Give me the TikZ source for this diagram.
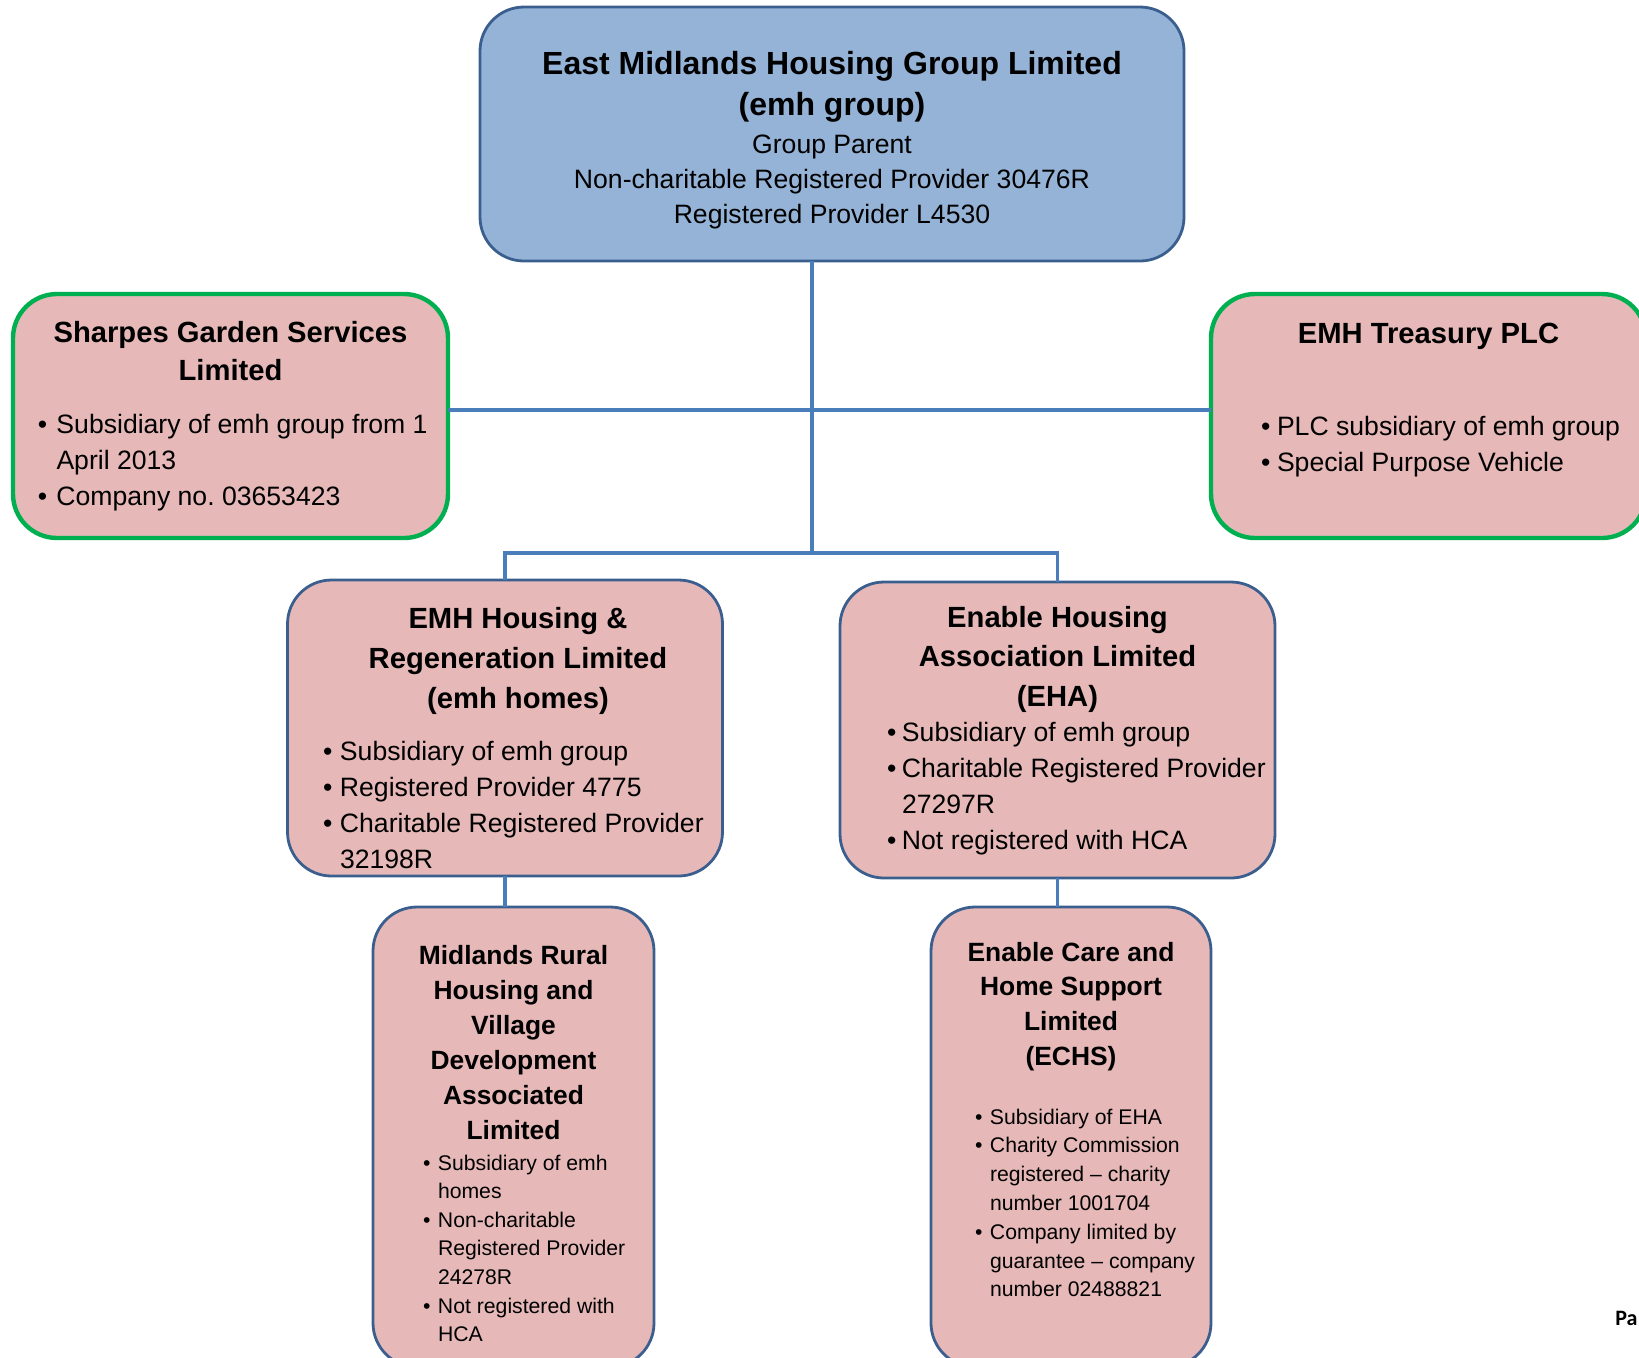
\documentclass[tikz,border=0pt]{standalone}
\usepackage{fontspec}
\setmainfont{Liberation Sans}
\newfontfamily\footfont{Carlito}
\frenchspacing
\definecolor{GroupBlue}{HTML}{95B3D7}
\definecolor{FrameBlue}{HTML}{3A5F8E}
\definecolor{LinkBlue}{HTML}{4A7EBB}
\definecolor{UnitPink}{HTML}{E6B9B8}
\definecolor{FrameGreen}{HTML}{00B050}
\newlength{\bulind}
\newlength{\bultxt}
\newcommand{\unittext}[3]{\begin{minipage}[c][#2][t]{#1}#3\end{minipage}}
\newcommand{\titlesize}[2]{\fontsize{#1}{#2}\selectfont\bfseries}
\newcommand{\bodysize}[2]{\fontsize{#1}{#2}\selectfont}
\newcommand{\bul}[1]{\hspace*{\bulind}\makebox[\dimexpr\bultxt-\bulind\relax][l]{\textbullet}\mbox{#1}}
\newcommand{\cont}[1]{\hspace*{\bultxt}\mbox{#1}}

\begin{document}
\begin{tikzpicture}[
    x = 0.5pt, y = -0.5pt,
    unit/.style={
      draw = FrameBlue,
      line width = 1.4pt,
      rounded corners = 22pt,
      fill = UnitPink,
      inner sep = 0pt,
      outer sep = 0pt,
    },
    parent/.style={unit, fill = GroupBlue},
    side/.style={unit, draw = FrameGreen, line width = 2.2pt},
    link/.style={draw = LinkBlue, line width = 1.8pt},
  ]
  \useasboundingbox (0,0) rectangle (1639,1357);
  \clip (0,0) rectangle (1639,1357);

  % group parent
  \node[parent] (emh) at (832,134) {\unittext{352pt}{127pt}{%
    \centering
    {\titlesize{16}{20.5}\rule{0pt}{33.5pt}East Midlands Housing Group Limited\\(emh group)\par}
    \vspace{1.5pt}
    {\bodysize{13.3}{17.5}Group Parent\\Non-charitable Registered Provider 30476R\\Registered Provider L4530\par}}};

  % side companies
  \node[side] (sgs) at (230.5,416) {\unittext{217.5pt}{122pt}{%
    {\centering\titlesize{14.6}{19}\rule{0pt}{24pt}Sharpes Garden Services\\Limited\par}
    \vspace{8.5pt}
    {\raggedright\bodysize{13.3}{18}\setlength\bulind{12.5pt}\setlength\bultxt{21.75pt}%
     \bul{Subsidiary of emh group from 1}\\\cont{April 2013}\\\bul{Company no. 03653423}\par}}};
  \node[side] (ets) at (1428.5,416) {\unittext{217.5pt}{122pt}{%
    {\centering\titlesize{14.6}{19}\rule{0pt}{24.5pt}EMH Treasury PLC\par}
    \vspace{28pt}
    {\raggedright\bodysize{13.3}{18}\setlength\bulind{25pt}\setlength\bultxt{33pt}%
     \bul{PLC subsidiary of emh group}\\\bul{Special Purpose Vehicle}\par}}};

  % subsidiaries
  \node[unit] (homes) at (505,728) {\unittext{217.5pt}{148pt}{%
    {\centering\leftskip=13pt plus 1fil\titlesize{14.6}{20}\rule{0pt}{24pt}EMH Housing \&\\Regeneration Limited\\(emh homes)\par}
    \vspace{8pt}
    {\raggedright\bodysize{13.3}{18}\setlength\bulind{17.75pt}\setlength\bultxt{26.25pt}%
     \bul{Subsidiary of emh group}\\\bul{Registered Provider 4775}\\\bul{Charitable Registered Provider}\\\cont{32198R}\par}}};
  \node[unit] (eha) at (1057.5,730) {\unittext{217.5pt}{148pt}{%
    {\centering\titlesize{14.6}{19.75}\rule{0pt}{22.5pt}Enable Housing\\Association Limited\\(EHA)\par}
    \vspace{-0.5pt}
    {\raggedright\bodysize{13.3}{18}\setlength\bulind{23.5pt}\setlength\bultxt{31pt}%
     \bul{Subsidiary of emh group}\\\bul{Charitable Registered Provider}\\\cont{27297R}\\\bul{Not registered with HCA}\par}}};

  \node[unit] (mrh) at (513.5,1137) {\unittext{140.5pt}{230pt}{%
    {\centering\titlesize{13.2}{17.5}\rule{0pt}{28.5pt}Midlands Rural\\Housing and\\Village\\Development\\Associated\\Limited\par}
    \vspace{1.2pt}
    {\raggedright\bodysize{10.6}{14.3}\setlength\bulind{25pt}\setlength\bultxt{32.5pt}%
     \bul{Subsidiary of emh}\\\cont{homes}\\\bul{Non-charitable}\\\cont{Registered Provider}\\\cont{24278R}\\\bul{Not registered with}\\\cont{HCA}\par}}};
  \node[unit] (echs) at (1071,1137) {\unittext{140pt}{230pt}{%
    {\centering\titlesize{13.2}{17.35}\rule{0pt}{27pt}Enable Care and\\Home Support\\Limited\\(ECHS)\par}
    \vspace{15.1pt}
    {\raggedright\bodysize{10.6}{14.4}\setlength\bulind{22pt}\setlength\bultxt{29.5pt}%
     \bul{Subsidiary of EHA}\\\bul{Charity Commission}\\\cont{registered – charity}\\\cont{number 1001704}\\\bul{Company limited by}\\\cont{guarantee – company}\\\cont{number 02488821}\par}}};

  \node[anchor=base west, inner sep=0pt, font=\footfont\fontsize{11}{13}\selectfont\bfseries] (pg) at (1615,1325) {Pa};

  % connectors
  \coordinate (split) at (812,553);
  \draw[link] (split |- emh.south) -- (split);
  \draw[link] ([yshift=3pt]sgs.east) -- ([yshift=3pt]ets.west);
  \draw[link] (homes.north) |- (split) -| (eha.north);
  \draw[link] (homes.south) -- (homes.south |- mrh.north);
  \draw[link] (eha.south) -- (eha.south |- echs.north);
\end{tikzpicture}
\end{document}
